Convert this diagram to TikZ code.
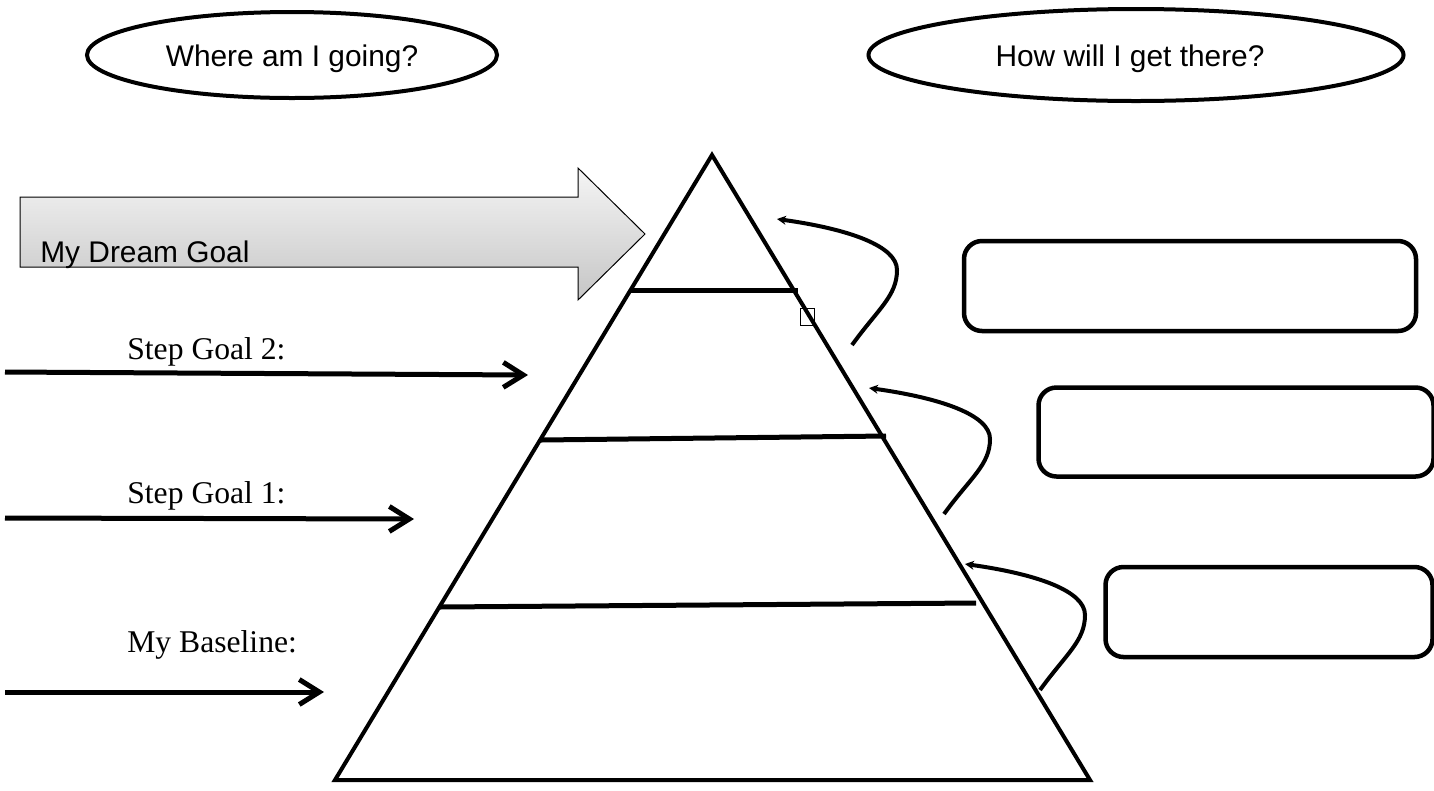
\documentclass[tikz,border=0pt]{standalone}
\usepackage{fontspec}
\setmainfont{Liberation Serif}
\newfontfamily\comicfont{Liberation Sans}
\usetikzlibrary{shapes.geometric,arrows.meta,calc}
\begin{document}
\begin{tikzpicture}[x=0.2mm,y=-0.2mm,
  oval/.style={ellipse, draw, line width=0.8mm, inner sep=0pt,
    font=\comicfont\fontsize{17pt}{20pt}\selectfont},
  ovaltext/.style={inner sep=0pt, font=\comicfont\fontsize{17pt}{20pt}\selectfont},
  roundbox/.style={draw, rounded corners=3.6mm, line width=0.9mm, inner sep=0pt},
  goalarrow/.style={line width=1mm, -{Straight Barb[length=4mm,width=5mm]}},
  curvearrow/.style={line width=0.8mm, -{Stealth[length=1.8mm,width=1.8mm]}},
  tri/.style={line width=0.8mm, line join=miter},
  shelf/.style={line width=1mm},
  serif/.style={anchor=base west, inner sep=0pt, font=\fontsize{18pt}{21pt}\selectfont},
  dreamtext/.style={anchor=base west, inner sep=0pt, font=\comicfont\fontsize{17pt}{20pt}\selectfont}
]
\useasboundingbox (0,0) rectangle (1434,790);
\fill[white] (0,0) rectangle (1434,790);

% header ellipses
\node[oval, minimum width=82mm, minimum height=17.2mm] (e1) at (292,55) {};
\node[ovaltext] (t1) at (292,59) {Where am I going?};
\node[oval, minimum width=107mm, minimum height=18.4mm] (e2) at (1136,55) {};
\node[ovaltext] (t2) at (1130,59) {How will I get there?};

% big gray arrow
\draw[line width=0.2mm, top color=gray!8, bottom color=gray!45]
  (20,197) -- (578,197) -- (578,168) -- (645,234) -- (578,300) -- (578,267) -- (20,267) -- cycle;
\node[dreamtext] (dream) at (40,262) {My Dream Goal};

% small square near the pyramid
\draw[line width=0.2mm, fill=white] (800,308) rectangle (814,325);

% pyramid
\coordinate (apex) at (712,155);
\coordinate (bl) at (335,780);
\coordinate (br) at (1090,780);
\draw[tri] (apex) -- (bl) -- (br) -- cycle;

% shelves
\coordinate (l1a) at (631,290); \coordinate (l1b) at (798,290);
\coordinate (l2a) at (541,440); \coordinate (l2b) at (886,436);
\coordinate (l3a) at (439,607); \coordinate (l3b) at (976,603);
\draw[shelf] (l1a) -- (l1b);
\draw[shelf] (l2a) -- (l2b);
\draw[shelf] (l3a) -- (l3b);

% left goal arrows and labels
\node[serif] (sg2) at (127,359) {Step Goal 2:};
\node[serif] (sg1) at (127,503) {Step Goal 1:};
\node[serif] (base) at (127,652) {My Baseline:};
\coordinate (a2s) at (5,372); \coordinate (a2e) at (528,375);
\coordinate (a1s) at (5,518); \coordinate (a1e) at (414,519);
\coordinate (a0s) at (5,692); \coordinate (a0e) at (324,692);
\draw[goalarrow] (a2s) -- (a2e);
\draw[goalarrow] (a1s) -- (a1e);
\draw[goalarrow] (a0s) -- (a0e);

% right boxes
\node[roundbox, minimum width=90.4mm, minimum height=18mm] (b1) at (1190,286) {};
\node[roundbox, minimum width=79mm, minimum height=17.8mm] (b2) at (1236,432) {};
\node[roundbox, minimum width=65.4mm, minimum height=18mm] (b3) at (1269,612) {};

% curved arrows
\coordinate (ctopA) at (777,219);
\coordinate (cmidA) at (897,270);
\coordinate (cbotA) at (852,345);
\coordinate (ctopB) at (869,388);
\coordinate (cmidB) at (990,439);
\coordinate (cbotB) at (944,514);
\coordinate (ctopC) at (965,564);
\coordinate (cmidC) at (1085,615);
\coordinate (cbotC) at (1040,690);
\draw[curvearrow] (cbotA) .. controls +(26,-36) and +(0,26) .. (cmidA)
   .. controls +(0,-24) and +(72,10) .. (ctopA);
\draw[curvearrow] (cbotB) .. controls +(26,-36) and +(0,26) .. (cmidB)
   .. controls +(0,-24) and +(72,10) .. (ctopB);
\draw[curvearrow] (cbotC) .. controls +(26,-36) and +(0,26) .. (cmidC)
   .. controls +(0,-24) and +(72,10) .. (ctopC);
\end{tikzpicture}
\end{document}
